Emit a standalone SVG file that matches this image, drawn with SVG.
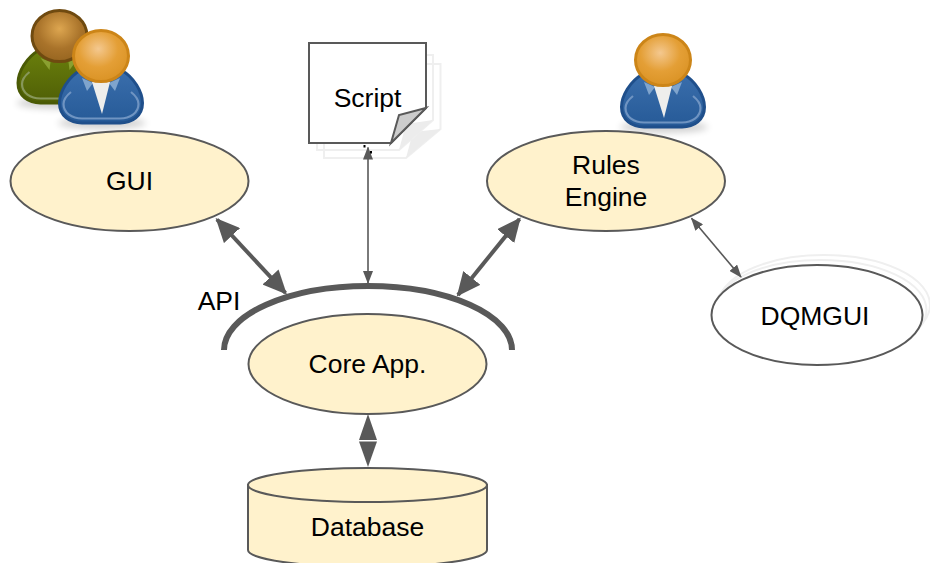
<svg xmlns="http://www.w3.org/2000/svg" xmlns:xlink="http://www.w3.org/1999/xlink" width="930" height="563" viewBox="0 0 930 563">
<style>
text{font-family:"Liberation Sans",Arial,sans-serif;font-size:26.500px;fill:#000;text-anchor:middle}
.n{fill:#fff2cc;stroke:#595959;stroke-width:2}
.w{fill:#fff;stroke:#595959;stroke-width:2}
.g{fill:none;stroke:#efefef;stroke-width:2}
.c{fill:none;stroke:#595959}
.t{stroke-width:4;marker-start:url(#big);marker-end:url(#big)}
.h{stroke-width:1.6;marker-start:url(#small);marker-end:url(#small)}
</style>
<defs>
<marker id="big" viewBox="0 0 24 22" refX="22" refY="11" markerWidth="24" markerHeight="22" markerUnits="userSpaceOnUse" orient="auto-start-reverse"><path d="M0,0L24,11L0,22Z" fill="#595959"/></marker>
<marker id="small" viewBox="0 0 13 10" refX="12" refY="5" markerWidth="13" markerHeight="10" markerUnits="userSpaceOnUse" orient="auto-start-reverse"><path d="M0,0L13,5L0,10Z" fill="#595959"/></marker>
<filter id="blur" x="-30%" y="-60%" width="160%" height="220%"><feGaussianBlur stdDeviation="3.500"/></filter>
<radialGradient id="hOrange" cx=".45" cy=".36" r=".6"><stop offset="0" stop-color="#f4c88f"/><stop offset=".6" stop-color="#e49f36"/><stop offset="1" stop-color="#dc9528"/></radialGradient>
<radialGradient id="hBrown" cx=".5" cy=".36" r=".6"><stop offset="0" stop-color="#dda650"/><stop offset=".65" stop-color="#a9732a"/><stop offset="1" stop-color="#9a6822"/></radialGradient>
<linearGradient id="bBlue" x1="0" y1="0" x2="0" y2="1"><stop offset="0" stop-color="#3a6eac"/><stop offset="1" stop-color="#265a97"/></linearGradient>
<linearGradient id="bGreen" x1="0" y1="0" x2="0" y2="1"><stop offset="0" stop-color="#6a7f0c"/><stop offset="1" stop-color="#4f5f06"/></linearGradient>
<path id="body" d="M-20,14C-33,21-41.500,36-41.500,47C-41.500,60-31,67-19,67L19,67C31,67 41.500,60 41.500,47C41.500,36 33,21 20,14Z"/>
<path id="inner" d="M-30,36C-35,40-37.500,44-37.500,48C-37.500,57-29,62.500-19,62.500L19,62.500C29,62.500 37.500,57 37.500,48C37.500,44 35,40 30,36"/>
<g id="blueperson">
<ellipse cx="1" cy="67" rx="44" ry="6" fill="#000" opacity=".18" filter="url(#blur)"/>
<use xlink:href="#body" fill="url(#bBlue)" stroke="#1f4f8b" stroke-width="3"/>
<use xlink:href="#inner" fill="none" stroke="#6f94c2" stroke-width="2.200"/>
<path d="M-19,22L-8,27L-14,35Z" fill="#7fa4cd"/>
<path d="M19,22L8,27L14,35Z" fill="#7fa4cd"/>
<path d="M-9,26L9,26L1,58Z" fill="#eeeeec"/>
<ellipse cx="0" cy="0" rx="27.500" ry="25.500" fill="url(#hOrange)" stroke="#cc8518" stroke-width="3"/>
</g>
<g id="greenperson">
<ellipse cx="1" cy="67" rx="44" ry="6" fill="#000" opacity=".18" filter="url(#blur)"/>
<use xlink:href="#body" fill="url(#bGreen)" stroke="#4a5a05" stroke-width="3"/>
<use xlink:href="#inner" fill="none" stroke="#87975a" stroke-width="2.200"/>
<path d="M-19,22L-9,26L-10,34Z" fill="#8aa030"/>
<path d="M19,22L9,26L10,34Z" fill="#8aa030"/>
<ellipse cx="0" cy="0" rx="27.500" ry="25.500" fill="url(#hBrown)" stroke="#6f4a10" stroke-width="3"/>
</g>
</defs>

<g id="gui-users">
<use xlink:href="#greenperson" x="59.500" y="36"/>
<use xlink:href="#blueperson" x="101" y="56"/>
</g>
<g id="rules-user"><use xlink:href="#blueperson" x="663" y="60"/></g>

<g id="script">
<path class="g" d="M324,64H440.500V129L406,158H324Z"/>
<path d="M406,158L413,132L440.500,129Z" fill="#ececec"/>
<path class="g" d="M317,55H433V120L399,150H317Z" fill="#fff"/>
<path d="M399,150L406,124L433,120Z" fill="#ececec"/>
<path d="M309,43H426V108L391,143H309Z" fill="#fff" stroke="#595959" stroke-width="2"/>
<path d="M391,143L399,115L426,108Z" fill="#cccccc" stroke="#595959" stroke-width="2"/>
<text x="367.500" y="107">Script</text>
</g>

<g id="gui"><ellipse class="n" cx="129.500" cy="181" rx="119" ry="50"/><text x="129.500" y="190">GUI</text></g>
<g id="rules-engine"><ellipse class="n" cx="606" cy="181" rx="119" ry="50"/><text x="606" y="174">Rules</text><text x="606" y="206">Engine</text></g>
<g id="dqmgui">
<ellipse class="g" cx="824" cy="305" rx="106" ry="50"/>
<ellipse class="g" cx="820.500" cy="310" rx="106" ry="50"/>
<ellipse class="w" cx="817" cy="315" rx="105.500" ry="50"/>
<text x="815" y="325">DQMGUI</text>
</g>
<g id="core"><ellipse class="n" cx="367.500" cy="364" rx="119" ry="50"/><text x="367.500" y="373">Core App.</text></g>
<g id="database">
<path class="n" d="M248,485V550A119.500,17 0 0 0 487,550V485Z"/>
<ellipse class="n" cx="367.500" cy="485" rx="119.500" ry="17"/>
<text x="367.500" y="536">Database</text>
</g>
<g id="api">
<path d="M224,350A144,64 0 0 1 512,350" fill="none" stroke="#595959" stroke-width="6"/>
<text x="219" y="310">API</text>
</g>

<g id="connectors">
<line class="c t" x1="217" y1="219.500" x2="285.500" y2="293"/>
<line class="c t" x1="519.500" y1="219" x2="458" y2="295"/>
<line class="c h" x1="691.500" y1="218.300" x2="741" y2="277"/>
<line class="c h" x1="368" y1="147.500" x2="368" y2="283"/>
<path d="M368,414L377,440H359Z" fill="#595959"/>
<path d="M368,467L377,441.500H359Z" fill="#595959"/>
<rect x="363.500" y="145" width="2" height="2.500" fill="#000"/>
<rect x="370" y="151" width="2" height="2.500" fill="#000"/>
</g>
</svg>
